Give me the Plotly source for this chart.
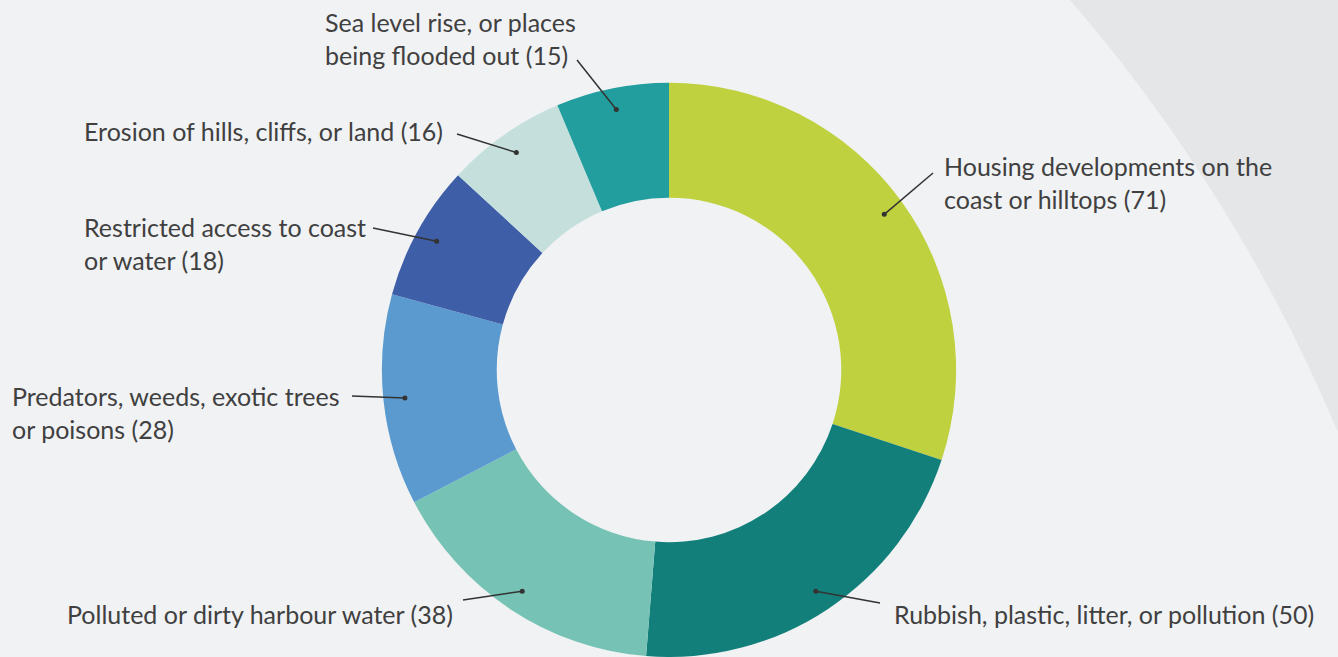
import math
import plotly.graph_objects as go

# ---- data ----
labels = [
    "Housing developments on the coast or hilltops",
    "Rubbish, plastic, litter, or pollution",
    "Polluted or dirty harbour water",
    "Predators, weeds, exotic trees or poisons",
    "Restricted access to coast or water",
    "Erosion of hills, cliffs, or land",
    "Sea level rise, or places being flooded out",
]
values = [71, 50, 38, 28, 18, 16, 15]
label_text = [
    "Housing developments on the<br>coast or hilltops (71)",
    "Rubbish, plastic, litter, or pollution (50)",
    "Polluted or dirty harbour water (38)",
    "Predators, weeds, exotic trees<br>or poisons (28)",
    "Restricted access to coast<br>or water (18)",
    "Erosion of hills, cliffs, or land (16)",
    "Sea level rise, or places<br>being flooded out (15)",
]
colors = ["#BFD13F", "#137F7B", "#76C3B5", "#5B9ACF", "#3F5EA8", "#C5DFDC", "#229E9E"]

# ---- layout (pixels) ----
W, H = 1338, 657
DOM_X = [0.0, 1.0]
DOM_Y = [0.0, 0.874]
HOLE = 0.6
TEXT_COLOR = "#404040"
FONT = "Lato"
FS = 25

# label placement: (x, y, xanchor, text-end x, text-end y)
label_pos = [
    (942, 182, "left", 933, 173),
    (892, 614, "left", 880, 603),
    (455, 614, "right", 463, 600),
    (10, 412, "left", 352, 396),
    (82, 243, "left", 373, 228),
    (82, 131, "left", 457, 134),
    (323, 38, "left", 577, 60),
]

fig = go.Figure()
fig.add_trace(go.Pie(
    labels=labels, values=values, sort=False, direction="clockwise", rotation=0,
    hole=HOLE, marker=dict(colors=colors, line=dict(width=0)),
    textinfo="none", hoverinfo="label+value", showlegend=False,
    domain=dict(x=DOM_X, y=DOM_Y),
))
# invisible scatter to establish pixel axes
fig.add_trace(go.Scatter(x=[0, W], y=[0, H], mode="markers", marker=dict(opacity=0),
                         hoverinfo="skip", showlegend=False))

# pie geometry derived from its domain
cx = W * (DOM_X[0] + DOM_X[1]) / 2
cy = H * (1 - (DOM_Y[0] + DOM_Y[1]) / 2)
R = min(W * (DOM_X[1] - DOM_X[0]), H * (DOM_Y[1] - DOM_Y[0])) / 2
r_dot = R * 0.925

shapes = []
# background arc
bh, bk, bR = -149, 1055, 1612
shapes.append(dict(type="circle", xref="x", yref="y", x0=bh - bR, x1=bh + bR, y0=bk - bR, y1=bk + bR,
                   fillcolor="#F1F2F4", line=dict(width=0), layer="below"))

total = sum(values)
cum = 0
annotations = []
for v, txt, (lx, ly, anc, ex, ey) in zip(values, label_text, label_pos):
    mid = (cum + v / 2) / total * 2 * math.pi
    cum += v
    dx = cx + r_dot * math.sin(mid)
    dy = cy - r_dot * math.cos(mid)
    shapes.append(dict(type="line", xref="x", yref="y", x0=ex, y0=ey, x1=dx, y1=dy,
                       line=dict(color="#333333", width=1.5), layer="above"))
    shapes.append(dict(type="circle", xref="x", yref="y", x0=dx - 2.5, x1=dx + 2.5, y0=dy - 2.5, y1=dy + 2.5,
                       fillcolor="#333333", line=dict(width=0), layer="above"))
    annotations.append(dict(x=lx, y=ly, xref="x", yref="y", text=txt, showarrow=False,
                            xanchor=anc, yanchor="middle", align="left",
                            font=dict(family=FONT, size=FS, color=TEXT_COLOR)))

fig.update_layout(
    width=W, height=H, margin=dict(l=0, r=0, t=0, b=0),
    paper_bgcolor="#E5E6E8", plot_bgcolor="rgba(0,0,0,0)",
    xaxis=dict(range=[0, W], visible=False, fixedrange=True, domain=[0, 1]),
    yaxis=dict(range=[H, 0], visible=False, fixedrange=True, domain=[0, 1]),
    shapes=shapes, annotations=annotations, showlegend=False,
)
fig.write_html("out.html")
